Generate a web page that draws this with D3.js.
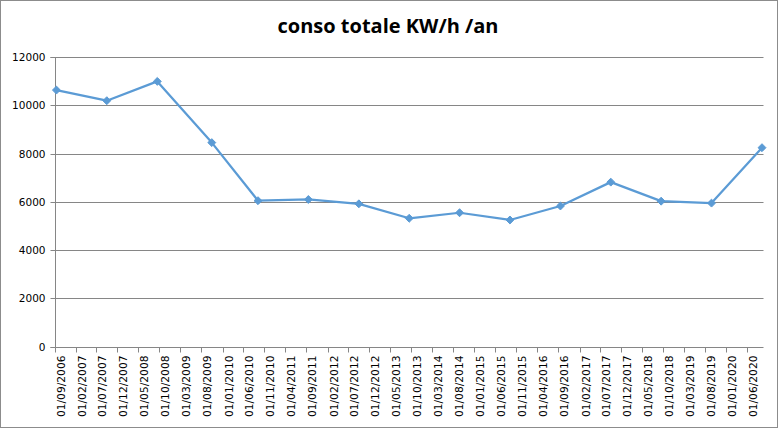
<!DOCTYPE html>
<html>
<head>
<meta charset="utf-8">
<script src="https://cdn.jsdelivr.net/npm/d3@7"></script>
<style>
  html, body { margin: 0; padding: 0; background: #fff; }
  svg { display: block; }
</style>
</head>
<body>
<svg id="chart" width="779" height="429"></svg>
<script>
const title = "conso totale KW/h /an";
const dates = ["15/09/2006","15/09/2007","15/09/2008","15/10/2009","15/09/2010","15/09/2011","15/09/2012","15/09/2013","15/09/2014","15/09/2015","15/09/2016","15/09/2017","15/09/2018","15/09/2019","15/09/2020"];
const values = [10640, 10200, 11000, 8460, 6050, 6100, 5920, 5320, 5550, 5250, 5830, 6820, 6030, 5950, 8250];
const xTickLabels = ["01/09/2006","01/02/2007","01/07/2007","01/12/2007","01/05/2008","01/10/2008","01/03/2009","01/08/2009","01/01/2010","01/06/2010","01/11/2010","01/04/2011","01/09/2011","01/02/2012","01/07/2012","01/12/2012","01/05/2013","01/10/2013","01/03/2014","01/08/2014","01/01/2015","01/06/2015","01/11/2015","01/04/2016","01/09/2016","01/02/2017","01/07/2017","01/12/2017","01/05/2018","01/10/2018","01/03/2019","01/08/2019","01/01/2020","01/06/2020"];
const yTicks = [0, 2000, 4000, 6000, 8000, 10000, 12000];

const parse = d3.timeParse("%d/%m/%Y");
const data = dates.map((d, i) => ({ date: parse(d), value: values[i] }));
const tickDates = xTickLabels.map(parse);

const svg = d3.select("#chart");
const W = 779, H = 429;
const plot = { left: 54.5, right: 762, top: 57.3, bottom: 346.5 };
const gridColor = "#868686";
const lineColor = "#5B9BD5";
const axisFont = "'DejaVu Sans', Verdana, sans-serif";

// outer border
svg.append("rect").attr("x", 0.5).attr("y", 0.5).attr("width", W - 2).attr("height", H - 2)
  .attr("fill", "#fff").attr("stroke", "#8c8c8c").attr("stroke-width", 1);

const x = d3.scaleTime().domain([tickDates[0], data[data.length - 1].date]).range([plot.left, plot.right]);
const y = d3.scaleLinear().domain([0, 12000]).range([plot.bottom, plot.top]);

// gridlines
svg.append("g").selectAll("line").data(yTicks.filter(v => v > 0)).join("line")
  .attr("x1", plot.left).attr("x2", plot.right + 1.5)
  .attr("y1", d => Math.round(y(d)) + 0.5).attr("y2", d => Math.round(y(d)) + 0.5)
  .attr("stroke", gridColor).attr("stroke-width", 1);

// y axis
const yAxis = svg.append("g").attr("transform", `translate(${Math.round(plot.left) + 0.5},0)`)
  .call(d3.axisLeft(y).tickValues(yTicks).tickSize(5).tickPadding(5).tickFormat(d3.format("d")));
yAxis.select(".domain").attr("stroke", gridColor).attr("d", `M-5,${Math.round(plot.top)+0.5}H0V${Math.round(plot.bottom)+0.5}H-5`);
yAxis.selectAll(".tick line").attr("stroke", gridColor);
yAxis.selectAll(".tick").attr("transform", d => `translate(0,${Math.round(y(d)) + 0.5})`);
yAxis.selectAll("text").attr("font-family", axisFont).attr("font-size", "10.5px").attr("fill", "#000");

// x axis
const xAxis = svg.append("g").attr("transform", `translate(0,${Math.round(plot.bottom) + 0.5})`)
  .call(d3.axisBottom(x).tickValues(tickDates).tickSize(5).tickFormat(d3.timeFormat("%d/%m/%Y")));
xAxis.select(".domain").attr("stroke", gridColor).attr("d", `M${Math.round(plot.left)+0.5},0H${plot.right + 1.5}`);
xAxis.selectAll(".tick").attr("transform", d => `translate(${Math.round(x(d)) + 0.5},0)`);
xAxis.selectAll(".tick line").attr("stroke", gridColor);
xAxis.selectAll("text")
  .attr("font-family", axisFont).attr("font-size", "10.7px").attr("fill", "#000")
  .attr("transform", "rotate(-90)")
  .attr("text-anchor", "end")
  .attr("x", -8).attr("y", 0).attr("dy", "0.85em");

// line
svg.append("path").datum(data)
  .attr("fill", "none").attr("stroke", lineColor).attr("stroke-width", 2.25)
  .attr("stroke-linejoin", "round")
  .attr("d", d3.line().x(d => x(d.date)).y(d => y(d.value)));

// markers
svg.append("g").selectAll("path").data(data).join("path")
  .attr("transform", d => `translate(${x(d.date)},${y(d.value)})`)
  .attr("d", d3.symbol().type(d3.symbolDiamond2).size(40))
  .attr("fill", lineColor).attr("stroke", lineColor).attr("stroke-width", 1)
  .attr("stroke-linejoin", "miter");

// title
svg.append("text").attr("x", 388).attr("y", 33).attr("text-anchor", "middle")
  .attr("font-family", "'Open Sans', Lato, sans-serif").attr("font-weight", "bold")
  .attr("font-size", "20px").attr("fill", "#000").text(title);
</script>
</body>
</html>
